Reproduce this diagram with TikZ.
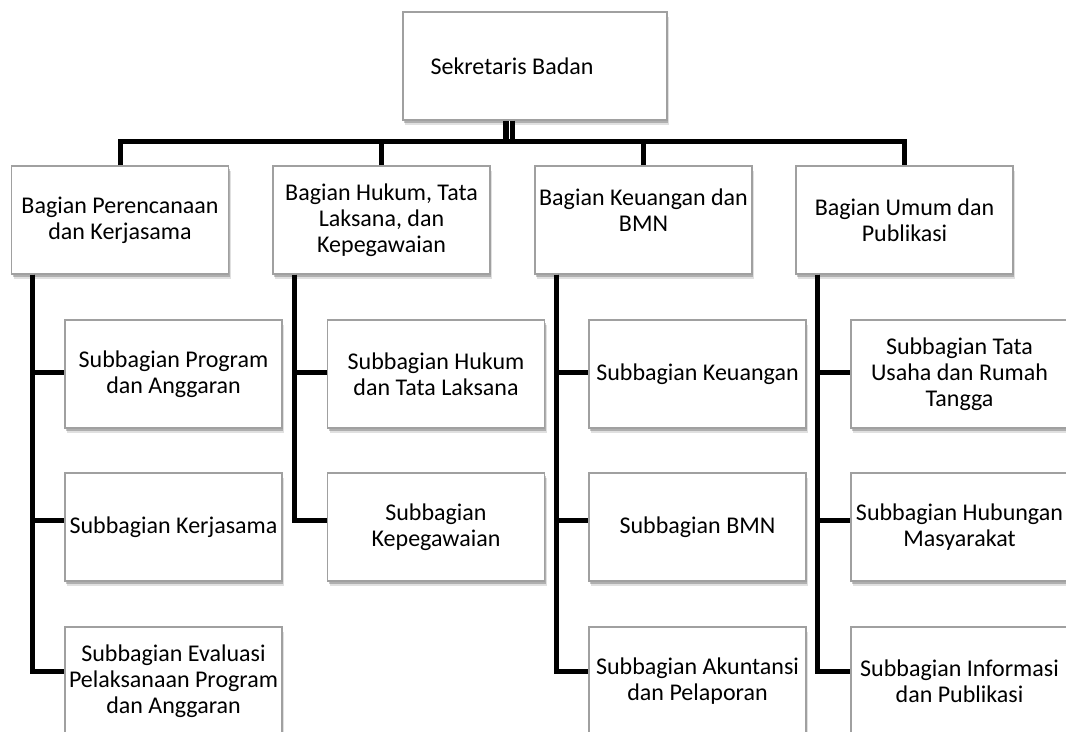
\documentclass[tikz,border=0pt]{standalone}
\usepackage{fontspec}
\setmainfont{Carlito}
\usetikzlibrary{shadows}
\definecolor{boxgray}{RGB}{160,160,160}
\begin{document}
\begin{tikzpicture}[x=0.75pt,y=-0.75pt,
  box/.style={draw=boxgray, line width=0.8pt, fill=white,
    minimum width=162.75pt, minimum height=81pt, inner sep=0pt,
    align=center, font=\fontsize{18pt}{19.5pt}\selectfont,
    drop shadow={shadow xshift=1.5pt, shadow yshift=-3.5pt, opacity=0.12, fill=black},
    drop shadow={shadow xshift=0.8pt, shadow yshift=-2pt, opacity=0.22, fill=black}},
  conn/.style={draw=black, line width=3.75pt, line join=miter},
  trunk/.style={draw=black, line width=4.1pt, double=white, double distance=0.75pt}]
\useasboundingbox (0,0) rectangle (1066,731);

% top
\node[box, minimum width=198pt] (top) at (535,66) {Sekretaris Badan\hspace*{34.5pt}};

% level 2
\node[box] (b1) at (120,220) {Bagian Perencanaan\\dan Kerjasama};
\node[box] (b2) at (381.5,220) {Bagian Hukum, Tata\\Laksana, dan\\Kepegawaian};
\node[box] (b3) at (643.5,220) {Bagian Keuangan dan\\BMN\rule[-15pt]{0pt}{0pt}};
\node[box] (b4) at (904.5,220) {Bagian Umum dan\\Publikasi};

% level 3
\node[box] (s11) at (173.5,374) {Subbagian Program\\dan Anggaran};
\node[box] (s12) at (173.5,527) {Subbagian Kerjasama};
\node[box] (s13) at (173.5,681) {Subbagian Evaluasi\\Pelaksanaan Program\\dan Anggaran};

\node[box] (s21) at (436,374) {Subbagian Hukum\\dan Tata Laksana};
\node[box] (s22) at (436,527) {Subbagian\\Kepegawaian};

\node[box] (s31) at (697.5,374) {Subbagian Keuangan};
\node[box] (s32) at (697.5,527) {Subbagian BMN};
\node[box] (s33) at (697.5,681) {Subbagian Akuntansi\\dan Pelaporan};

\node[box] (s41) at (959.5,374) {Subbagian Tata\\Usaha dan Rumah\\Tangga};
\node[box] (s42) at (959.5,527) {Subbagian Hubungan\\Masyarakat};
\node[box] (s43) at (959.5,681) {Subbagian Informasi\\dan Publikasi};

% connectors
\coordinate (bar) at (509,142);
\draw[trunk] (top.south -| bar) -- (bar);
\draw[conn] (b1.north) |- (bar) -| (b4.north);
\draw[conn] (b2.north) -- (b2.north |- bar);
\draw[conn] (b3.north) -- (b3.north |- bar);

\draw[conn] ([xshift=16pt]b1.south west) |- ([yshift=1.5pt]s11.west);
\draw[conn] ([xshift=16pt]b1.south west) |- ([yshift=5.25pt]s12.west);
\draw[conn] ([xshift=16pt]b1.south west) |- ([yshift=7.5pt]s13.west);

\draw[conn] ([xshift=16.5pt]b2.south west) |- ([yshift=1.5pt]s21.west);
\draw[conn] ([xshift=16.5pt]b2.south west) |- ([yshift=5.25pt]s22.west);

\draw[conn] ([xshift=16.5pt]b3.south west) |- ([yshift=1.5pt]s31.west);
\draw[conn] ([xshift=16.5pt]b3.south west) |- ([yshift=5.25pt]s32.west);
\draw[conn] ([xshift=16.5pt]b3.south west) |- ([yshift=7.5pt]s33.west);

\draw[conn] ([xshift=16.5pt]b4.south west) |- ([yshift=1.5pt]s41.west);
\draw[conn] ([xshift=16.5pt]b4.south west) |- ([yshift=5.25pt]s42.west);
\draw[conn] ([xshift=16.5pt]b4.south west) |- ([yshift=7.5pt]s43.west);
\end{tikzpicture}
\end{document}
